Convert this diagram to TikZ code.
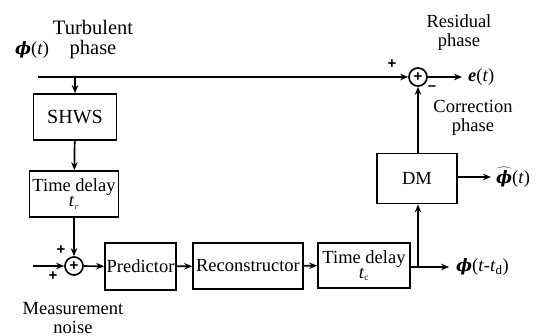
\documentclass[tikz,border=0pt]{standalone}
\usepackage{fontspec}
\setmainfont{Liberation Serif}
\newfontfamily\phifont{DejaVu Serif}
\newfontfamily\sgnfont{Liberation Sans}
\usetikzlibrary{arrows.meta}
\newcommand{\bphi}{{\phifont\bfseries\itshape\fontsize{17}{17}\selectfont ϕ}}
\tikzset{
  blk/.style={draw, line width=1.7pt, rectangle, inner sep=0pt, align=center},
  sumc/.style={draw, line width=1.7pt, circle, minimum size=18pt, inner sep=0pt, font=\sgnfont\fontsize{15}{15}\selectfont\bfseries},
  lbl/.style={align=center, inner sep=0pt},
  sgn/.style={inner sep=0pt, font=\sgnfont\fontsize{15}{15}\selectfont\bfseries},
  arr/.style={line width=1.7pt, -{Stealth[length=8pt,width=6.5pt]}},
}
\begin{document}
\begin{tikzpicture}[x=1pt, y=-1pt, font=\fontsize{18.5}{19}\selectfont]
\useasboundingbox (0,0) rectangle (537,336);
% blocks
\node[blk, minimum width=83pt, minimum height=46pt, font=\fontsize{20}{20}\selectfont] (shws) at (75,117) {SHWS};
\node[blk, minimum width=89pt, minimum height=46pt, font=\fontsize{18.5}{16}\selectfont] (tdr) at (74,194) {Time delay\\[-1pt]\textit{t}$_{\scriptscriptstyle r}$};
\node[blk, minimum width=71pt, minimum height=47pt] (pred) at (140.5,266.5) {Predictor};
\node[blk, minimum width=110pt, minimum height=46pt] (rec) at (248,266) {Reconstructor};
\node[blk, minimum width=92pt, minimum height=45pt, font=\fontsize{18.5}{16}\selectfont] (tdc) at (364,265.5) {Time delay\\[-1pt]\textit{t}$_{\scriptscriptstyle\mathrm{c}}$};
\node[blk, minimum width=80pt, minimum height=50pt] (dm) at (417,178.5) {DM};
% summing junctions
\node[sumc] (s1) at (418,77) {+};
\node[sumc] (s2) at (74,266) {+};
% coordinates
\coordinate (in) at (38,77);
\coordinate (br1) at (75,77);
\coordinate (noise) at (33,266);
\coordinate (eout) at (462,77);
\coordinate (hout) at (491,177);
\coordinate (br2) at (418,267);
\coordinate (pout) at (449,267);
% texts
\node[lbl, anchor=west] (phi) at (15,50) {\bphi(\textit{t})};
\node[lbl, font=\fontsize{20.5}{20}\selectfont] (turb) at (93,40) {Turbulent\\phase};
\node[lbl] (resid) at (459,33) {Residual\\phase};
\node[lbl] (corr) at (473,118) {Correction\\phase};
\node[lbl, anchor=west] (et) at (468,77) {\textbf{\textit{e}}(\textit{t})};
\node[lbl, anchor=west] (hat) at (496,177) {\raisebox{0pt}{$\widehat{\hbox{\bphi}}$}(\textit{t})};
\node[lbl, anchor=west] (ptd) at (456,267) {\bphi(\textit{t}-\textit{t}$_{\mathrm{d}}$)};
\node[lbl] (meas) at (73,318) {Measurement\\noise};
\node[sgn] (p1) at (392,64) {+};
\node[sgn] (m1) at (432,88) {–};
\node[sgn] (p2) at (61,250) {+};
\node[sgn] (p3) at (53,276) {+};
% connectors
\draw[arr] (in) -- (s1);
\draw[arr] (br1) -- (shws);
\draw[arr] (shws) -- (tdr);
\draw[arr] (tdr.south) -- (s2);
\draw[arr] (noise) -- (s2);
\draw[arr] (s2) -- (pred);
\draw[arr] (pred) -- (rec);
\draw[arr] (rec) -- (tdc);
\draw[arr] (tdc.east |- br2) -- (pout);
\draw[arr] (br2) -- (dm.south -| br2);
\draw[arr] (dm.north -| s1) -- (s1);
\draw[arr] (dm.east |- hout) -- (hout);
\draw[arr] (s1) -- (eout);
\end{tikzpicture}
\end{document}
